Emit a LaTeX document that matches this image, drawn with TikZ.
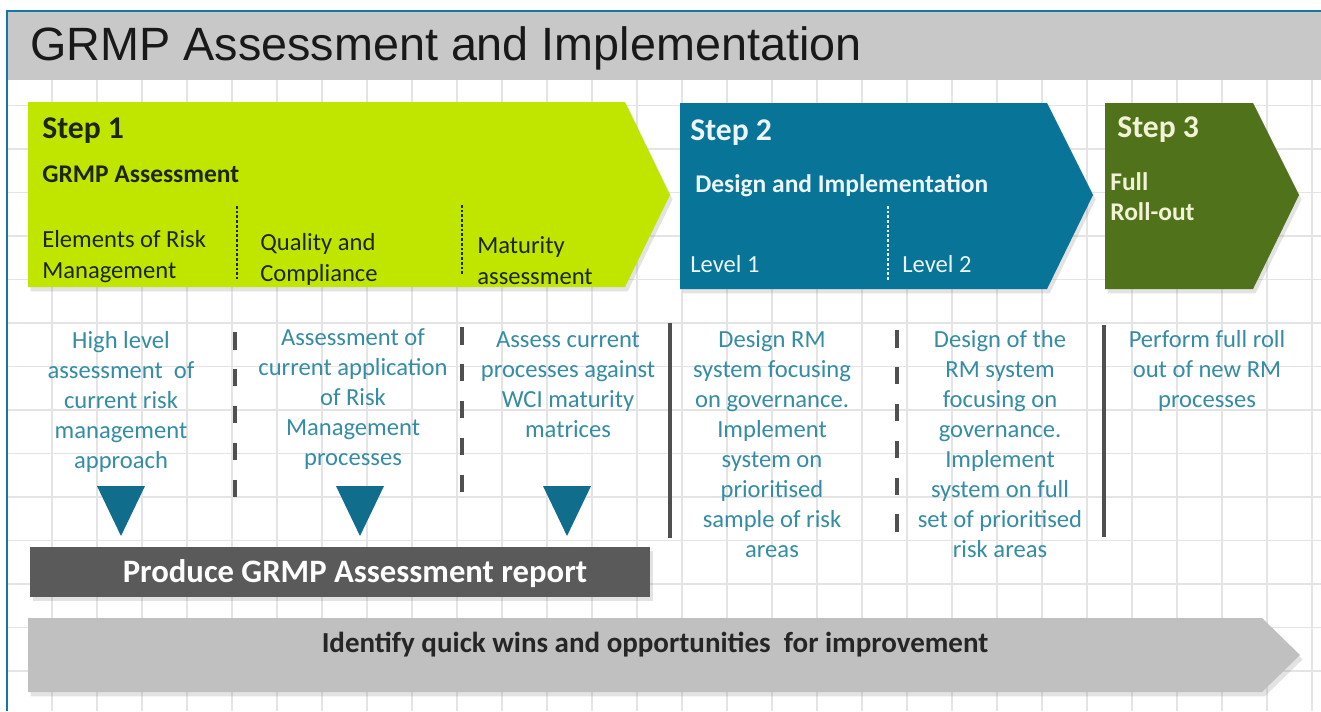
\documentclass[tikz,border=0pt]{standalone}
\usepackage{fontspec}
\setmainfont{Carlito}
\newfontfamily\titlefont{Liberation Sans}
\usetikzlibrary{shadows}

\definecolor{steplime}{RGB}{192,230,0}
\definecolor{stepteal}{RGB}{8,116,152}
\definecolor{stepolive}{RGB}{80,114,26}
\definecolor{limetext}{RGB}{28,38,10}
\definecolor{tealtext}{RGB}{236,246,250}
\definecolor{olivetext}{RGB}{242,242,215}
\definecolor{tasktext}{RGB}{52,140,165}
\definecolor{pointerteal}{RGB}{16,110,140}
\definecolor{sepgray}{RGB}{80,80,80}
\definecolor{reportgray}{RGB}{90,90,90}
\definecolor{winsgray}{RGB}{192,192,192}
\definecolor{bargray}{RGB}{200,200,200}
\definecolor{frameblue}{RGB}{20,120,160}
\definecolor{gridgray}{RGB}{228,228,228}

\tikzset{
	% text styles for the chevrons and the columns below them
	step label/.style={anchor=base west, inner sep=0, font=\bfseries\fontsize{18}{20}\selectfont},
	phase label/.style={anchor=base west, inner sep=0, font=\bfseries\fontsize{14.5}{17}\selectfont},
	part label/.style={anchor=base west, inner sep=0, align=left, font=\fontsize{14}{17.5}\selectfont},
	task text/.style={anchor=base, inner sep=0, align=center, text=tasktext, font=\fontsize{14}{17}\selectfont},
	% separators
	task sep/.style={line width=2.3pt, draw=sepgray, dash pattern=on 10pt off 11pt},
	phase sep/.style={line width=2.3pt, draw=sepgray},
	part sep/.style={line width=0.8pt, dash pattern=on 1.5pt off 1.2pt},
	pointer/.style={fill=pointerteal},
	soft shadow/.style={drop shadow={opacity=0.22, shadow xshift=1.5pt, shadow yshift=-2.5pt}}
}

\begin{document}
\begin{tikzpicture}[x=0.02cm, y=-0.02cm]

  \useasboundingbox (0,0) rectangle (1321,711);
  \fill[white] (0,0) rectangle (1321,711);

  %% background grid
  \foreach \gx in {1,...,29}
    \draw[gridgray, line width=0.6pt] (7+45*\gx, 80) -- (7+45*\gx, 711);
  \foreach \gy in {0,...,14}
    \draw[gridgray, line width=0.6pt] (7, 105.5+43.5*\gy) -- (1321, 105.5+43.5*\gy);

  %% title bar and frame
  \fill[bargray] (7,11) rectangle (1321,80);
  \draw[frameblue, line width=1.6pt] (7,711) -- (7,11) -- (1321,11);
  \node(title) at (30, 60) [anchor=base west, inner sep=0,
  font=\titlefont\fontsize{26.6}{30}\selectfont, text=black!90]{GRMP Assessment and Implementation};

  %% the three steps
  \fill[steplime, soft shadow] (28,102) -- (625,102) -- (670,195) -- (625,287) -- (28,287) -- cycle;
  \fill[stepteal, soft shadow] (680,103) -- (1047,103) -- (1093,195) -- (1047,289) -- (680,289) -- cycle;
  \fill[stepolive, soft shadow] (1105,103) -- (1253,103) -- (1299,195) -- (1253,289) -- (1105,289) -- cycle;

  \node(step1) at (42, 138) [step label, text=limetext]{Step 1};
  \node(assess) at (42, 182) [phase label, text=limetext]{GRMP Assessment};
  % multi-line labels sit on their last line
  \node(elements) at (42, 278) [part label, text=limetext]{Elements of Risk\\Management};
  \node(quality) at (260, 281) [part label, text=limetext]{Quality and\\Compliance};
  \node(maturity) at (477, 284) [part label, text=limetext]{Maturity\\assessment};
  \draw[part sep, limetext] (237,206) -- (237,279);
  \draw[part sep, limetext] (462,205) -- (462,276);

  \node(step2) at (690, 140) [step label, text=tealtext]{Step 2};
  \node(design) at (695, 192) [phase label, text=tealtext]{Design and Implementation};
  \node(level1) at (690, 272) [part label, text=tealtext]{Level 1};
  \node(level2) at (902, 272) [part label, text=tealtext]{Level 2};
  \draw[part sep, tealtext] (888,206) -- (888,281);

  \node(step3) at (1117, 137) [step label, text=olivetext]{Step 3};
  \node(rollout) at (1110, 220) [phase label, align=left, text=olivetext]{Full\\Roll-out};

  %% what each step does
  \node(task1) at (121, 468) [task text]{High level\\assessment\ \ of\\current risk\\management\\approach};
  \node(task2) at (353, 465) [task text]{Assessment of\\current application\\of Risk\\Management\\processes};
  \node(task3) at (568, 437) [task text]{Assess current\\processes against\\WCI maturity\\matrices};
  \node(task4) at (772, 557) [task text]{Design RM\\system focusing\\on governance.\\Implement\\system on\\prioritised\\sample of risk\\areas};
  \node(task5) at (1000, 557) [task text]{Design of the\\RM system\\focusing on\\governance.\\Implement\\system on full\\set of prioritised\\risk areas};
  \node(task6) at (1207, 407) [task text]{Perform full roll\\out of new RM\\processes};

  \draw[task sep] (235,332) -- (235,497);
  \draw[task sep] (462,327) -- (462,493);
  \draw[phase sep] (670,323) -- (670,538);
  \draw[task sep] (897,330) -- (897,533);
  \draw[phase sep] (1104,325) -- (1104,537);

  %% pointers down to the report
  \foreach \px in {121,360,567}
    \fill[pointer] (\px-24,486) -- (\px+24,486) -- (\px,536) -- cycle;

  \fill[reportgray, soft shadow] (30,547) rectangle (650,597);
  \node(report) at (355, 582) [anchor=base, inner sep=0, text=white,
  font=\bfseries\fontsize{18.6}{20}\selectfont]{Produce GRMP Assessment report};

  %% quick wins band
  \fill[winsgray, soft shadow] (28,618) -- (1262,618) -- (1300,655) -- (1262,692) -- (28,692) -- cycle;
  \node(wins) at (655, 652) [anchor=base, inner sep=0, text=black!85,
  font=\bfseries\fontsize{16.5}{18}\selectfont]{Identify quick wins and opportunities\ \ for improvement};

\end{tikzpicture}
\end{document}
